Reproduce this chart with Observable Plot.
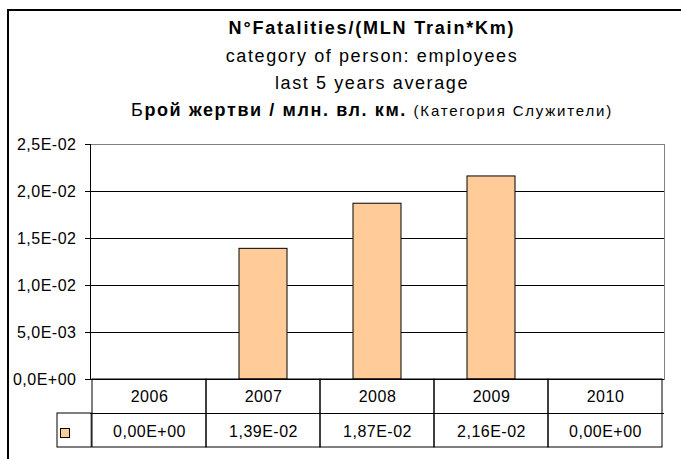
<!DOCTYPE html>
<html><head><meta charset="utf-8">
<script src="https://cdn.jsdelivr.net/npm/d3@7"></script>
<script src="https://cdn.jsdelivr.net/npm/@observablehq/plot@0.6"></script>
<style>
body{margin:0;background:#fff;}
#wrap{position:relative;width:681px;height:459px;overflow:hidden;font-family:"Liberation Sans",Arial,sans-serif;color:#000;background:#fff;}
#border{position:absolute;left:7px;top:9px;width:900px;height:900px;border-left:2px solid #000;border-top:2px solid #000;}
.t{position:absolute;left:0;width:744px;text-align:center;white-space:nowrap;font-size:18px;line-height:18px;letter-spacing:1.6px;}
#chart{position:absolute;left:0;top:130px;}
#swatch{position:absolute;left:60px;top:428px;width:8px;height:8px;background:#FFCC99;border:1px solid #000;}
</style></head>
<body><div id="wrap">
<div id="border"></div>
<div class="t" style="top:19px;font-weight:bold;letter-spacing:1.8px">N°Fatalities/(MLN Train*Km)</div>
<div class="t" style="top:47px">category of person: employees</div>
<div class="t" style="top:74px">last 5 years average</div>
<div class="t" style="top:101px;left:0px"><span>Б</span><b>рой жертви / млн. вл. км.</b> <span style="font-size:15px;letter-spacing:1.8px">(Категория Служители)</span></div>
<div id="chart"></div>
<div id="swatch"></div>
</div>
<script>
const years = ["2006", "2007", "2008", "2009", "2010"];
const values = [0, 0.0139, 0.0187, 0.0216, 0];
const yTicks = [0, 0.005, 0.01, 0.015, 0.02, 0.025];

const data = years.map((year, i) => ({year, value: values[i]}));
const W = 681, H = 329, mL = 90, mR = 17, mT = 14, mB = 80;
const bw = (W - mL - mR) / years.length;

function fmt(v, d) {
  const [m, e] = v.toExponential(d).split("e");
  const ei = +e;
  return m.replace(".", ",") + "E" + (ei < 0 ? "-" : "+") + String(Math.abs(ei)).padStart(2, "0");
}

const plot = Plot.plot({
  width: W, height: H,
  marginLeft: mL, marginRight: mR, marginTop: mT, marginBottom: mB,
  style: {fontFamily: "Liberation Sans, Arial, sans-serif", fontSize: "16px", color: "#000", background: "transparent", letterSpacing: "0.5px", overflow: "visible"},
  x: {domain: years, padding: 0, axis: null},
  y: {domain: [0, 0.025], label: null},
  marks: [
    Plot.ruleY(yTicks.slice(1, -1), {stroke: "#000"}),
    Plot.ruleY([0.025], {stroke: "#808080"}),
    Plot.frame({anchor: "right", stroke: "#808080"}),
    Plot.barY(data.filter(d => d.value > 0), {x: "year", y: "value", fill: "#FFCC99", stroke: "#000", insetLeft: 33, insetRight: 33}),
    Plot.frame({anchor: "left", stroke: "#000"}),
    Plot.ruleY([0], {stroke: "#000"}),
    Plot.axisY({ticks: yTicks, tickFormat: v => fmt(v, 1), tickSize: 5, tickPadding: 9, anchor: "left", label: null, stroke: "#000"}),
    Plot.barY(years, {x: d => d, y1: 0, y2: 0, insetBottom: -68, fill: "none", stroke: "#000"}),
    Plot.barY(years.slice(0, 1), {x: d => d, y1: 0, y2: 0, insetTop: 34, insetBottom: -68, insetLeft: -35, insetRight: bw, fill: "none", stroke: "#000"}),
    Plot.ruleY([0], {dy: 34, stroke: "#000"}),
    Plot.text(years, {x: d => d, text: d => d, frameAnchor: "bottom", dy: 17, lineAnchor: "middle"}),
    Plot.text(data, {x: "year", text: d => fmt(d.value, 2), frameAnchor: "bottom", dy: 52, lineAnchor: "middle"})
  ]
});
document.getElementById("chart").appendChild(plot);
</script>
</body></html>
